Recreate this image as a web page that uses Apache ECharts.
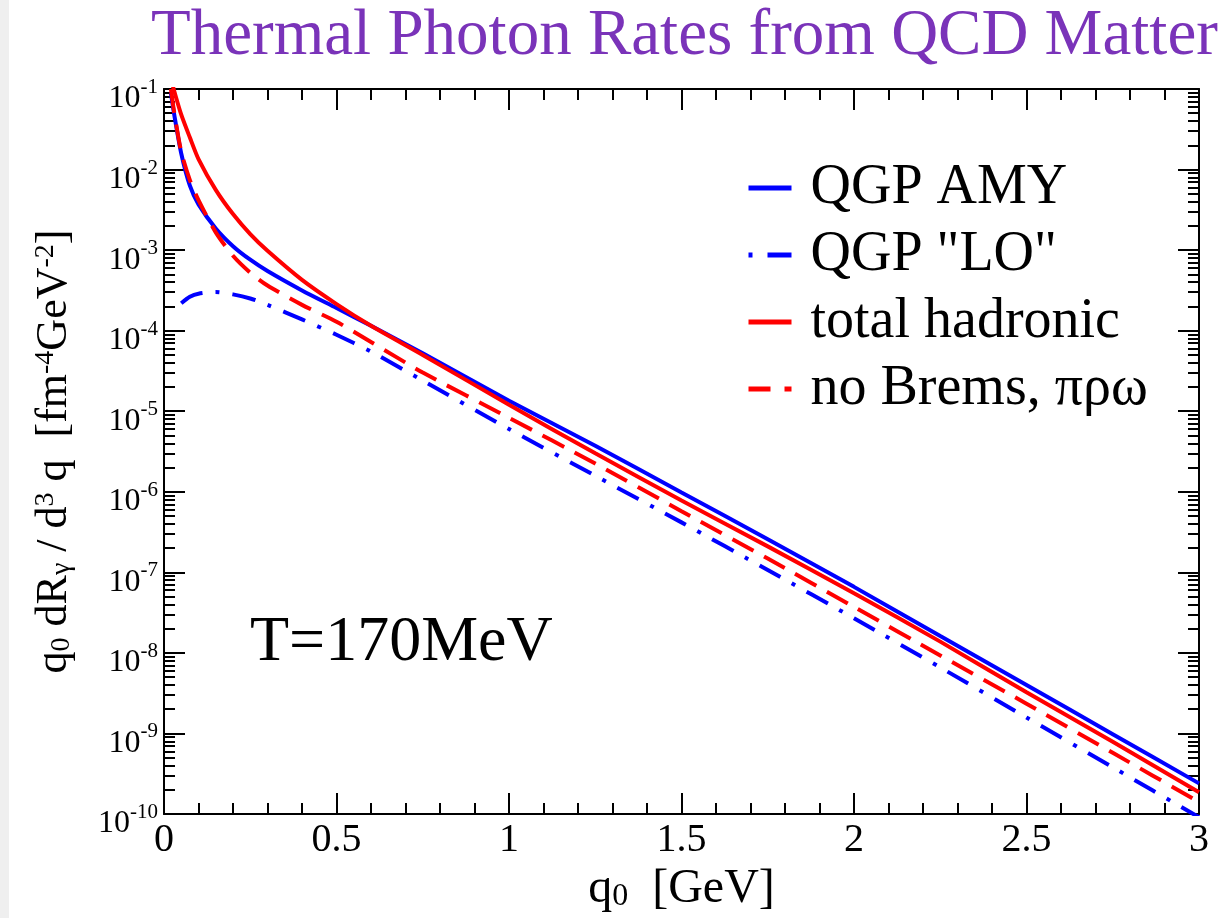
<!DOCTYPE html>
<html>
<head>
<meta charset="utf-8">
<title>Thermal Photon Rates from QCD Matter</title>
<script src="https://cdn.jsdelivr.net/npm/echarts@6/dist/echarts.min.js"></script>
<style>
html, body { margin: 0; padding: 0; background: #fff; }
#main { width: 1222px; height: 918px; }
</style>
</head>
<body>
<div id="main"></div>
<script>
// values (q0 in GeV, rate in fm^-4 GeV^-2)
var qAmy = [0.02, 0.03, 0.05, 0.075, 0.1, 0.15, 0.2, 0.25, 0.3, 0.4, 0.5, 0.6, 0.75, 1.0, 1.25, 1.5, 1.75, 2.0, 2.25, 2.5, 2.75, 3.0];
var amy = [8.9e-2, 4.7e-2, 1.58e-2, 6.3e-3, 3.7e-3, 1.86e-3, 1.12e-3, 7.6e-4, 5.5e-4, 3.16e-4, 1.91e-4, 1.15e-4, 5.25e-5, 1.35e-5, 3.72e-6, 9.8e-7, 2.57e-7, 6.6e-8, 1.62e-8, 4.0e-9, 9.8e-10, 2.4e-10];

var qLo = [0.05, 0.075, 0.1, 0.15, 0.2, 0.25, 0.3, 0.4, 0.5, 0.6, 0.75, 1.0, 1.25, 1.5, 1.75, 2.0, 2.25, 2.5, 2.75, 3.0];
var lo = [2.19e-4, 2.63e-4, 2.88e-4, 3.02e-4, 2.82e-4, 2.51e-4, 2.09e-4, 1.38e-4, 8.9e-5, 5.5e-5, 2.4e-5, 6.0e-6, 1.58e-6, 4.17e-7, 1.07e-7, 2.69e-8, 6.6e-9, 1.58e-9, 3.8e-10, 9.1e-11];

var qHad = [0.025, 0.03, 0.05, 0.075, 0.1, 0.15, 0.2, 0.25, 0.3, 0.4, 0.5, 0.6, 0.75, 1.0, 1.25, 1.5, 1.75, 2.0, 2.25, 2.5, 2.75, 3.0];
var had = [0.112, 9.3e-2, 4.8e-2, 2.5e-2, 1.35e-2, 5.6e-3, 2.8e-3, 1.58e-3, 9.8e-4, 4.27e-4, 2.14e-4, 1.15e-4, 5.0e-5, 1.2e-5, 3.0e-6, 7.8e-7, 2.1e-7, 5.5e-8, 1.38e-8, 3.24e-9, 7.9e-10, 1.86e-10];

var qNoBrems = [0.02, 0.03, 0.05, 0.075, 0.1, 0.15, 0.2, 0.25, 0.3, 0.4, 0.5, 0.6, 0.75, 1.0, 1.25, 1.5, 1.75, 2.0, 2.25, 2.5, 2.75, 3.0];
var noBrems = [0.1, 5.0e-2, 1.66e-2, 7.4e-3, 4.17e-3, 1.66e-3, 8.5e-4, 5.25e-4, 3.63e-4, 2.09e-4, 1.29e-4, 7.24e-5, 3.02e-5, 8.3e-6, 2.24e-6, 5.75e-7, 1.48e-7, 3.72e-8, 9.3e-9, 2.34e-9, 5.75e-10, 1.41e-10];

var names = ['QGP AMY', 'QGP "LO"', 'total hadronic', 'no Brems, \u03c0\u03c1\u03c9'];

// y decades (exponents) and minor tick factors
var decadeMin = -10;
var decadeMax = -1;
var minorFactors = [2, 3, 4, 5, 6, 7, 8, 9];

var serif = '"Liberation Serif", "Times New Roman", serif';

function pairs(xs, ys) {
	var out = [];
	for (var i = 0; i < xs.length; i++) {
		out.push([xs[i], ys[i]]);
	}
	return out;
}

function minorTicks() {
	var out = [];
	for (var n = decadeMin; n < decadeMax; n++) {
		for (var k = 0; k < minorFactors.length; k++) {
			out.push(n + Math.log10(minorFactors[k]));
		}
	}
	return out;
}

var black = { color: '#000', width: 2 };

function majorY(pos, withLabel) {
	var ax = {
		type: 'value',
		position: pos,
		min: decadeMin,
		max: decadeMax,
		interval: 1,
		axisLine: { show: true, onZero: false, lineStyle: black },
		axisTick: { show: true, inside: true, length: 21, lineStyle: black },
		splitLine: { show: false },
		axisLabel: { show: false }
	};
	if (withLabel) {
		ax.axisLabel = {
			show: true,
			margin: 6,
			padding: [20, 0, 0, 0],
			formatter: function (v) {
				return '{b|10}{s|' + Math.round(v) + '}';
			},
			rich: {
				b: { fontFamily: serif, fontSize: 32, lineHeight: 44, color: '#000' },
				s: { fontFamily: serif, fontSize: 21, lineHeight: 14, verticalAlign: 'top', color: '#000' }
			}
		};
		ax.name = '{m|q}{sub|0}{m| dR}{sub|\u03b3}{m| / d}{sup|3}{m| q  [fm}{sup|-4}{m|GeV}{sup|-2}{m|]}';
		ax.nameLocation = 'middle';
		ax.nameRotate = 90;
		ax.nameGap = 88;
		ax.nameTextStyle = {
			rich: {
				m: { fontFamily: serif, fontSize: 44, lineHeight: 44, color: '#000' },
				sub: { fontFamily: serif, fontSize: 28, lineHeight: 17, verticalAlign: 'bottom', color: '#000' },
				sup: { fontFamily: serif, fontSize: 28, lineHeight: 12, verticalAlign: 'top', color: '#000' }
			}
		};
	}
	return ax;
}

function minorY(pos) {
	return {
		type: 'value',
		position: pos,
		min: decadeMin,
		max: decadeMax,
		axisLine: { show: false },
		axisTick: { show: true, inside: true, length: 11, lineStyle: black, customValues: minorTicks() },
		splitLine: { show: false },
		axisLabel: { show: false }
	};
}

function xAx(pos, withLabel) {
	var ax = {
		type: 'value',
		position: pos,
		min: 0,
		max: 3,
		interval: 0.5,
		axisLine: { show: true, onZero: false, lineStyle: black },
		axisTick: { show: true, inside: true, length: 21, lineStyle: black },
		minorTick: { show: true, splitNumber: 5, length: 11, lineStyle: black },
		splitLine: { show: false },
		minorSplitLine: { show: false },
		axisLabel: { show: false }
	};
	if (withLabel) {
		ax.axisLabel = { show: true, margin: 6, fontFamily: serif, fontSize: 40, color: '#000' };
		ax.name = '{m|q}{sub|0}{m|  [GeV]}';
		ax.nameLocation = 'middle';
		ax.nameGap = 44;
		ax.nameTextStyle = {
			rich: {
				m: { fontFamily: serif, fontSize: 48, lineHeight: 48, color: '#000' },
				sub: { fontFamily: serif, fontSize: 32, lineHeight: 16, verticalAlign: 'bottom', color: '#000' }
			}
		};
	}
	return ax;
}

function line(name, xs, ys, color, type) {
	return {
		name: name,
		type: 'line',
		xAxisIndex: 0,
		yAxisIndex: 0,
		data: pairs(xs, ys),
		symbol: 'none',
		smooth: 0.25,
		clip: true,
		lineStyle: { color: color, width: 4, type: type },
		itemStyle: { color: color }
	};
}

var myChart = echarts.init(document.getElementById('main'));

var option = {
	animation: false,
	backgroundColor: '#fff',
	title: {
		text: 'Thermal Photon Rates from QCD Matter',
		left: 151,
		top: 4,
		padding: 0,
		textStyle: { fontFamily: serif, fontSize: 65, fontWeight: 'normal', color: '#7a33b9' }
	},
	grid: { left: 164, right: 23, top: 89, bottom: 104, containLabel: false },
	legend: {
		orient: 'vertical',
		left: 746,
		top: 160,
		padding: 0,
		itemWidth: 43,
		itemHeight: 14,
		itemGap: 11,
		selectedMode: false,
		itemStyle: { opacity: 0 },
		textStyle: { fontFamily: serif, fontSize: 56, lineHeight: 56, color: '#000', padding: [0, 0, 0, 14] },
		data: [
			{ name: names[0], lineStyle: { width: 5 } },
			{ name: names[1], lineStyle: { width: 5, type: [4, 15, 24, 0] } },
			{ name: names[2], lineStyle: { width: 5 } },
			{ name: names[3], lineStyle: { width: 5, type: [22, 14, 4, 0] } }
		]
	},
	xAxis: [xAx('bottom', true), xAx('top', false)],
	yAxis: [
		{ type: 'log', logBase: 10, min: 1e-10, max: 1e-1, show: false },
		majorY('left', true),
		majorY('right', false),
		minorY('left'),
		minorY('right')
	],
	graphic: [
		{ type: 'rect', left: 0, top: 0, shape: { width: 9, height: 918 }, style: { fill: '#efefef' } },
		{ type: 'text', left: 250, top: 611, style: { text: 'T=170MeV', font: '64px ' + serif, fill: '#000' } }
	],
	series: [
		line(names[0], qAmy, amy, '#0000ff', 'solid'),
		line(names[1], qLo, lo, '#0000ff', [24, 13, 4, 13]),
		line(names[2], qHad, had, '#ff0000', 'solid'),
		line(names[3], qNoBrems, noBrems, '#ff0000', [24, 12])
	]
};

myChart.setOption(option);
</script>
</body>
</html>
